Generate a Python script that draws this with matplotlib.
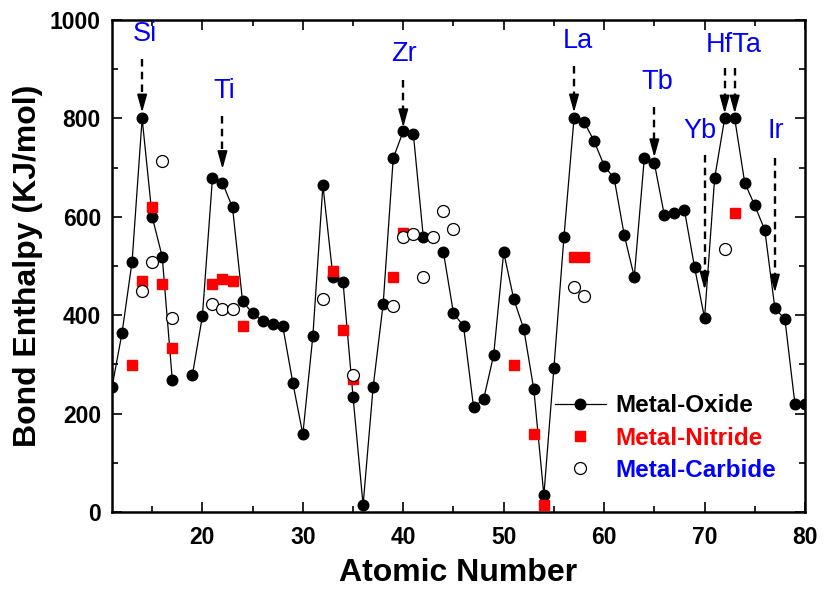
import numpy as np
import matplotlib
matplotlib.use("Agg")
import matplotlib.pyplot as plt

plt.rcParams['font.family'] = ['Liberation Sans', 'DejaVu Sans']

# ---------------- data ----------------
oxide_z = list(range(11, 81))
oxide_val = [254, 364, 509, 800, 600, 519, 269, np.nan, 278, 398,
             678, 669, 619, 428, 404, 388, 383, 378, 263, 158,
             358, 664, 478, 468, 234, 14, 254, 423, 719, 774,
             769, 558, np.nan, 528, 404, 378, 213, 229, 319, 528,
             433, 372, 249, 34, 293, 559, 800, 793, 754, 704,
             678, 563, 478, 719, 709, 603, 608, 613, 498, 394,
             678, 800, 800, 669, 623, 573, 414, 392, 219, 219]

nitride_z = [13, 14, 15, 16, 17, 21, 22, 23, 24, 33, 34, 35, 39, 40, 51, 53, 54, 57, 58, 73]
nitride_val = [298, 469, 619, 463, 333, 463, 473, 469, 378, 489, 369, 271, 478, 568, 298, 158, 14, 519, 519, 608]

carbide_z = [14, 15, 16, 17, 21, 22, 23, 32, 35, 39, 40, 41, 42, 43, 44, 45, 57, 58, 72]
carbide_val = [449, 509, 713, 394, 423, 413, 413, 433, 279, 419, 558, 565, 478, 558, 612, 576, 458, 440, 534]

# annotations: label, text position (x, y), arrows [(x, y_start, y_tip), ...]
ann_labels = ["Si", "Ti", "Zr", "La", "Tb", "Yb", "HfTa", "Ir"]
ann_text_xy = [(14.3, 971), (22.2, 855), (40.1, 931), (57.4, 957),
               (65.3, 874), (69.5, 775), (72.9, 950), (77.1, 775)]
ann_arrows = [[(14, 920, 812)], [(22, 804, 697)], [(40, 879, 782)], [(57, 906, 812)],
              [(65, 823, 721)], [(70, 725, 452)], [(72, 902, 810), (73, 902, 810)],
              [(77, 719, 446)]]

# ---------------- figure ----------------
fig = plt.figure(figsize=(8.25, 5.96), dpi=100)
ax = fig.add_axes([112/825, 1-512/596, 693/825, 492/596])

ax.plot(oxide_z, oxide_val, '-o', color='black', lw=0.9, ms=7.6, zorder=3,
        label='Metal-Oxide')
ax.plot(nitride_z, nitride_val, 's', color='#ff0000', ms=7.2, lw=0, zorder=4,
        label='Metal-Nitride')
ax.plot(carbide_z, carbide_val, 'o', mfc='white', mec='black', mew=0.9, ms=8.6,
        lw=0, zorder=5, label='Metal-Carbide')

for lab, (tx, ty), arrs in zip(ann_labels, ann_text_xy, ann_arrows):
    ax.text(tx, ty, lab, color='#0000ff', fontsize=19.5, ha='center', va='center',
            zorder=6)
    for (x, y0, y1) in arrs:
        ax.plot([x, x], [y0, y1 + 20], color='black', lw=1.7, ls=(0, (3.2, 2.2)),
                zorder=6, solid_capstyle='butt', dash_capstyle='butt')
        ax.annotate('', xy=(x, y1), xytext=(x, y1 + 22),
                    arrowprops=dict(arrowstyle='-|>,head_length=0.9,head_width=0.25',
                                    color='black', lw=1.2, mutation_scale=12,
                                    shrinkA=0, shrinkB=0), zorder=6)

ax.set_xlim(11, 80)
ax.set_ylim(0, 1000)
ax.set_xticks([20, 30, 40, 50, 60, 70, 80])
ax.set_xticks([15, 25, 35, 45, 55, 65, 75], minor=True)
ax.set_yticks([0, 200, 400, 600, 800, 1000])
ax.set_yticks([100, 300, 500, 700, 900], minor=True)

for s in ax.spines.values():
    s.set_linewidth(1.8)
ax.tick_params(which='both', direction='in', top=True, right=True, width=1.2)
ax.tick_params(which='major', length=7, pad=8)
ax.tick_params(which='minor', length=4)
for t in ax.get_xticklabels() + ax.get_yticklabels():
    t.set_fontweight('bold')
    t.set_fontsize(16.5)
ax.tick_params(axis='x', pad=10)

ax.set_xlabel('Atomic Number', fontsize=23, fontweight='bold')
ax.set_ylabel('Bond Enthalpy (KJ/mol)', fontsize=23, fontweight='bold')
ax.xaxis.set_label_coords(0.5, -0.093)
ax.yaxis.set_label_coords(-0.099, 0.5)

leg = ax.legend(loc='center left', bbox_to_anchor=(0.639, 0.15), frameon=False,
                prop={'weight': 'bold', 'size': 17.5}, handlelength=2.1,
                handletextpad=0.4, labelspacing=0.38, borderpad=0, borderaxespad=0)
for txt, c in zip(leg.get_texts(), ['black', '#ff0000', '#0000ff']):
    txt.set_color(c)

fig.savefig('out.png', dpi=100)
